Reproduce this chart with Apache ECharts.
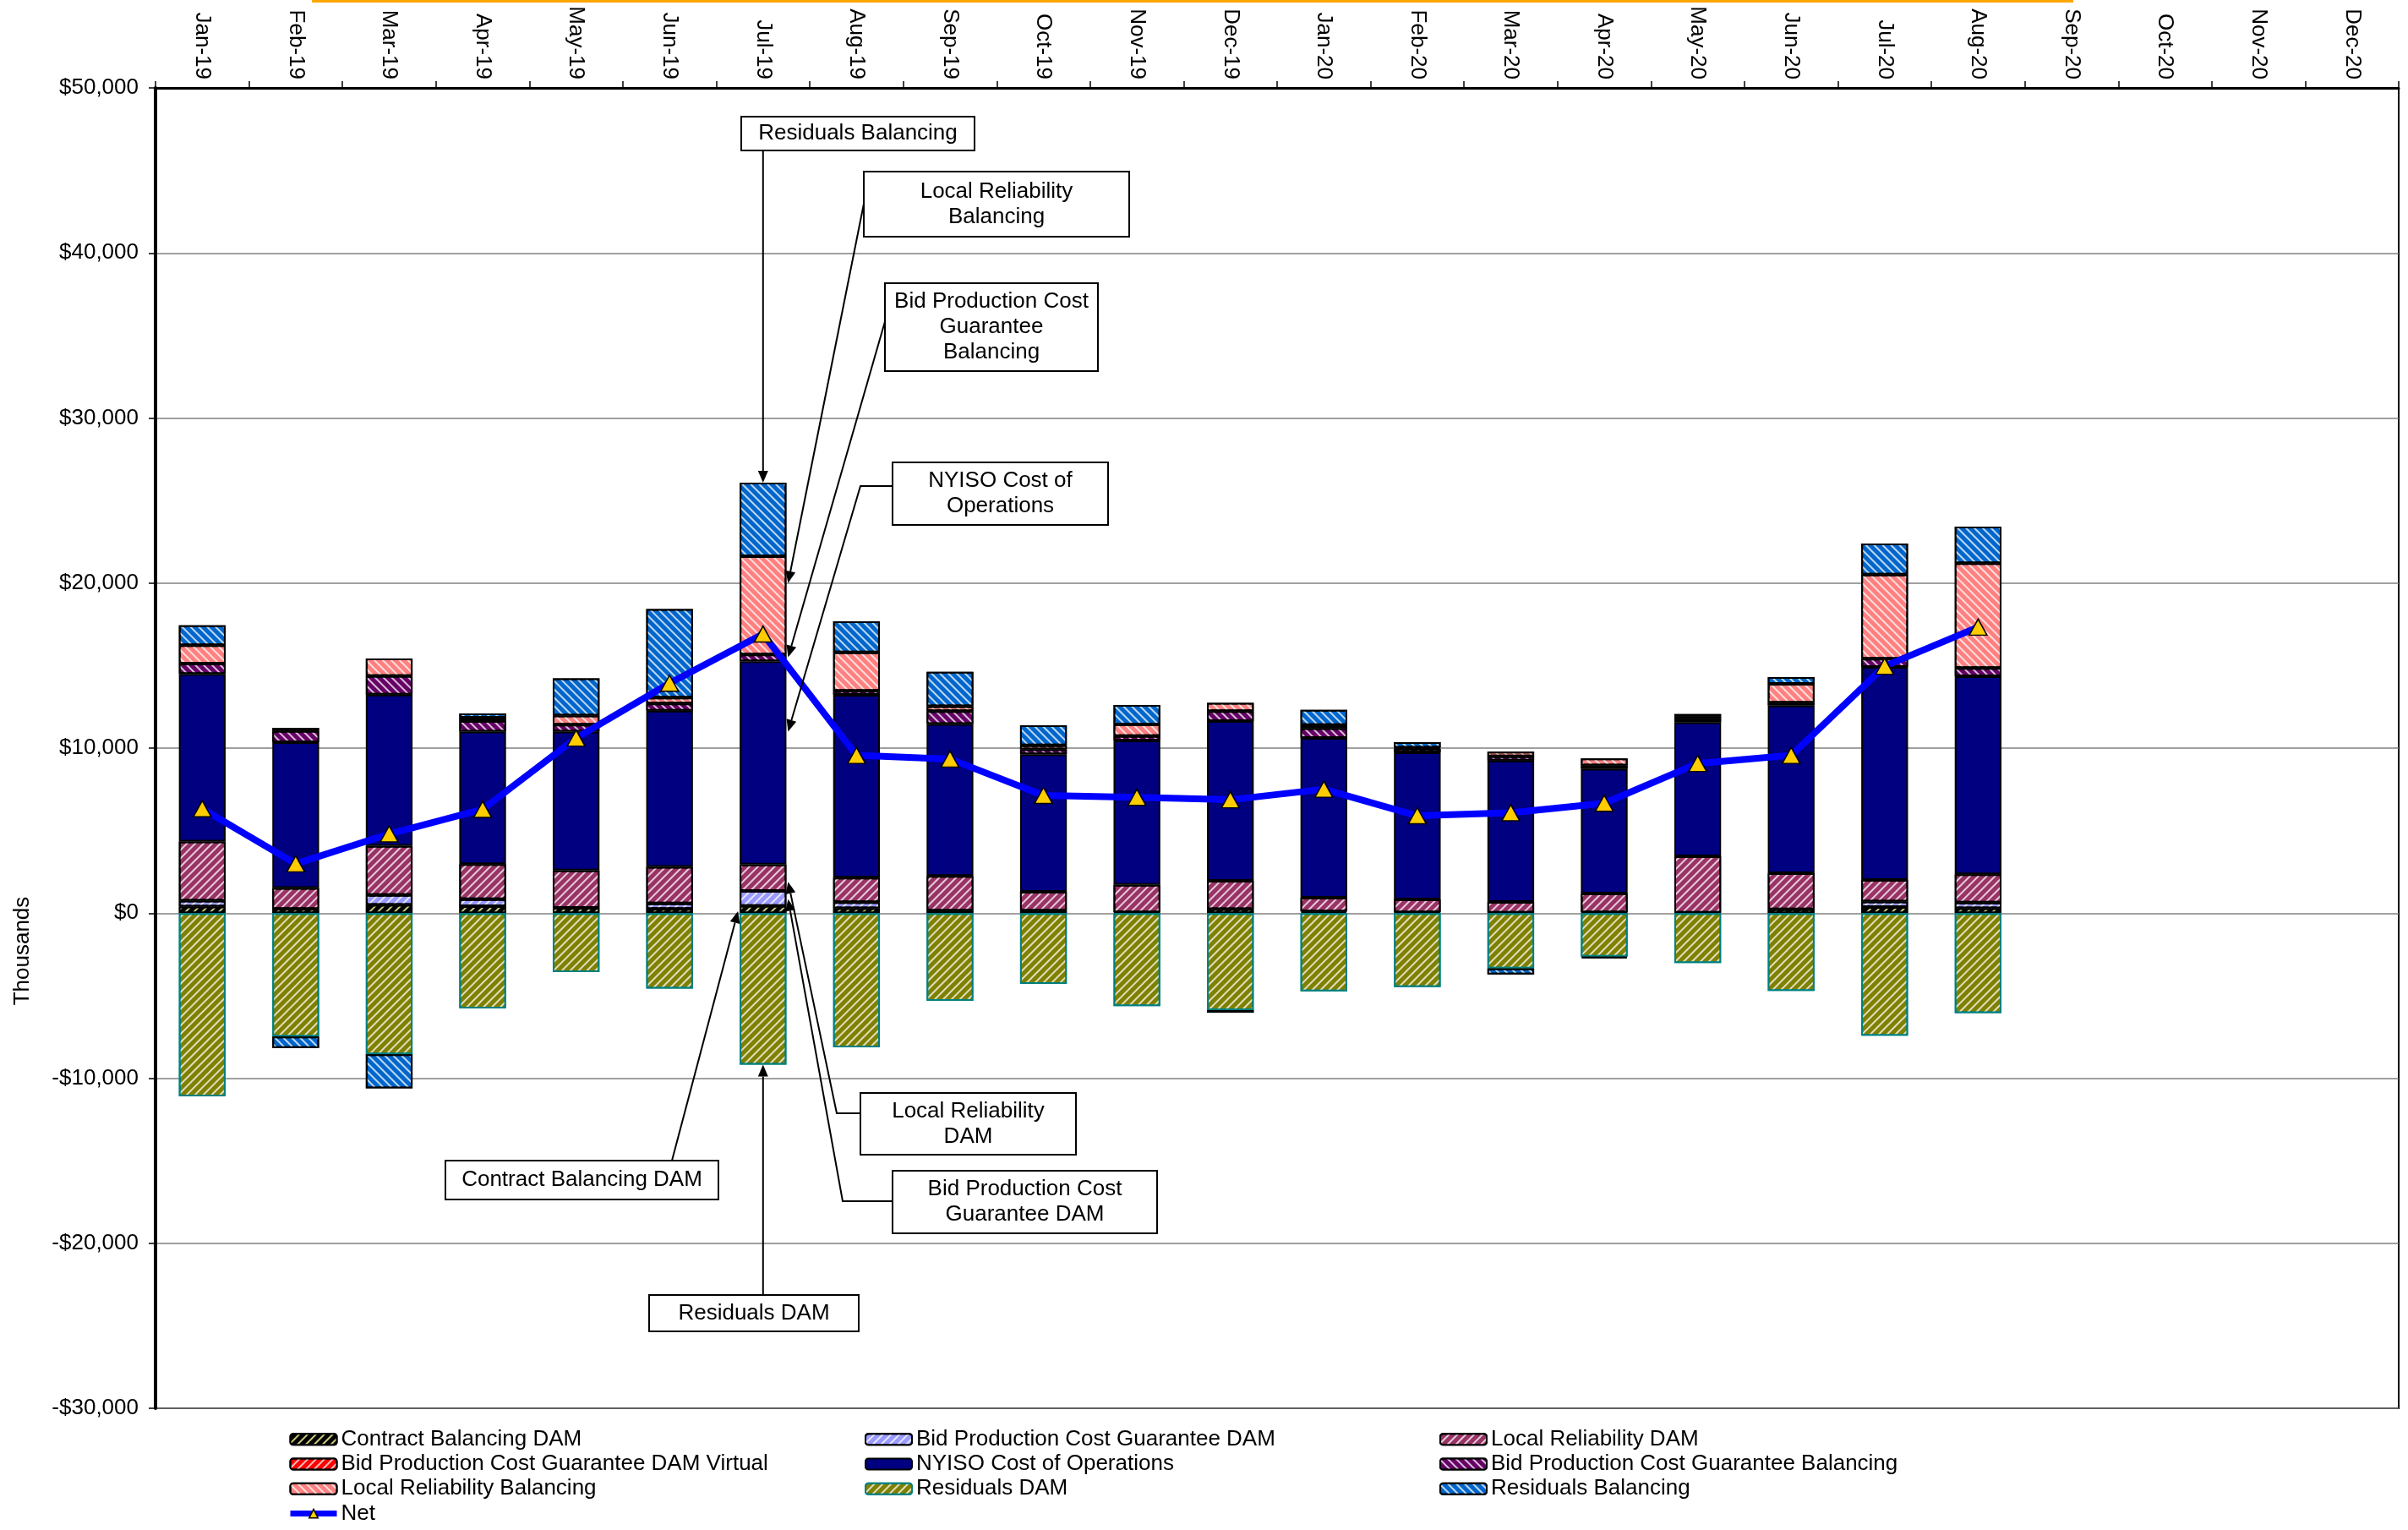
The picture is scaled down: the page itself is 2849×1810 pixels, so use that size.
<!DOCTYPE html>
<html>
<head>
<meta charset="utf-8">
<script src="https://cdn.jsdelivr.net/npm/echarts@6/dist/echarts.min.js"></script>
<style>
html,body{margin:0;padding:0;background:#fff;}
#c{width:2849px;height:1810px;}
</style>
</head>
<body>
<div id="c"></div>
<script>
const months = ['Jan-19','Feb-19','Mar-19','Apr-19','May-19','Jun-19','Jul-19','Aug-19','Sep-19','Oct-19','Nov-19','Dec-19',
                'Jan-20','Feb-20','Mar-20','Apr-20','May-20','Jun-20','Jul-20','Aug-20','Sep-20','Oct-20','Nov-20','Dec-20'];
const yTicks = [-30000,-20000,-10000,0,10000,20000,30000,40000,50000];

const contractBalancingDAM = [400,250,500,425,318,255,441,294,150,150,50,245,100,50,30,50,30,230,366,297,null,null,null,null];
const bpcgDAM = [350,null,600,424,null,339,906,367,null,null,null,null,null,null,null,null,null,null,342,343,null,null,null,null];
const localReliabilityDAM = [3590,1280,2972,2123,2272,2209,1592,1494,2100,1148,1664,1714,837,785,650,1143,3420,2192,1303,1713,null,null,null,null];
const bpcgDAMVirtual = [null,null,null,null,null,null,null,null,null,null,null,null,null,null,null,null,null,null,null,null,null,null,null,null];
const nyisoCost = [10150,8832,9172,8026,8408,9469,12319,11070,9209,8327,8744,9675,9676,8909,8569,7546,8110,10167,12908,11995,null,null,null,null];
const bpcgBalancing = [637,680,1126,637,425,424,417,245,784,294,269,612,596,222,256,205,206,159,503,502,null,null,null,null];
const localReliabilityBalancing = [1104,170,1061,212,552,361,5951,2327,294,245,711,490,188,60,273,426,160,1143,5094,6352,null,null,null,null];
const residualsDAM = [-11104,-7473,-8556,-5775,-3567,-4565,-9184,-8131,-5315,-4286,-5633,-5878,-4736,-4480,-3356,-2641,-3016,-4706,-7425,-6054,null,null,null,null];
const residualsBalancing = [1210,-700,-2060,255,2250,5372,4458,1886,2082,1225,1175,-147,920,330,-358,-100,137,411,1874,2216,null,null,null,null];
const net = [6327,2990,4800,6290,10610,13930,16910,9560,9340,7130,7020,6870,7510,5900,6080,6660,9070,9560,14960,17330,null,null,null,null];

const FONT = '"Liberation Sans", Arial, sans-serif';

function hatch(color, dir){
  return {
    symbol:'rect', symbolSize:1, color: color,
    dashArrayX:[1,0], dashArrayY:[2,5],
    rotation: dir === '/' ? -Math.PI/4 : Math.PI/4
  };
}
function barSeries(name, data, fill, decal, border){
  return {
    name, type:'bar', stack:'total', data, barWidth:'50%',
    itemStyle:{color:fill, borderColor: border || '#000', borderWidth:2, decal: decal || null},
    emphasis:{disabled:true}
  };
}
const W = 'rgba(255,255,255,0.75)';
const series = [
  barSeries('Contract Balancing DAM', contractBalancingDAM, '#000000', hatch('rgba(240,240,150,0.85)','/')),
  barSeries('Bid Production Cost Guarantee DAM', bpcgDAM, '#9999FF', hatch(W,'/')),
  barSeries('Local Reliability DAM', localReliabilityDAM, '#993366', hatch(W,'/')),
  barSeries('Bid Production Cost Guarantee DAM Virtual', bpcgDAMVirtual, '#FF0000', hatch(W,'/')),
  barSeries('NYISO Cost of Operations', nyisoCost, '#000080', null),
  barSeries('Bid Production Cost Guarantee Balancing', bpcgBalancing, '#660066', hatch(W,'\\')),
  barSeries('Local Reliability Balancing', localReliabilityBalancing, '#FF8080', hatch(W,'\\')),
  barSeries('Residuals DAM', residualsDAM, '#808000', hatch(W,'/'), '#008080'),
  barSeries('Residuals Balancing', residualsBalancing, '#0066CC', hatch(W,'\\')),
  {
    name:'Net', type:'line', data: net, z:10,
    lineStyle:{color:'#0000FF', width:8},
    itemStyle:{color:'#FFCC00', borderColor:'#000', borderWidth:1.5},
    symbol:'triangle', symbolSize:[21,19], showSymbol:true,
    emphasis:{disabled:true}
  }
];

const legendCommon = {
  orient:'vertical', itemWidth:55, itemHeight:13, itemGap:0, selectedMode:false, padding:0,
  height:130,
  textStyle:{fontSize:26, fontFamily:FONT, color:'#000', lineHeight:29.3}
};

const chart = echarts.init(document.getElementById('c'), null, {renderer:'canvas'});
chart.setOption({
  animation:false,
  backgroundColor:'#fff',
  grid:{left:184, right:11, top:104, bottom:144, show:true, borderColor:'#000', borderWidth:2, backgroundColor:'transparent'},
  xAxis:{
    type:'category', data: months, position:'top', boundaryGap:true,
    axisLine:{show:true, onZero:false, lineStyle:{color:'#000', width:3}},
    axisTick:{show:true, length:8, lineStyle:{color:'#000', width:1.5}},
    axisLabel:{rotate:90, fontSize:26, fontFamily:FONT, color:'#000', margin:10, interval:0},
    splitLine:{show:false}
  },
  yAxis:{
    type:'value', min: yTicks[0], max: yTicks[yTicks.length-1], interval:10000,
    axisLine:{show:true, onZero:false, lineStyle:{color:'#000', width:4}},
    axisTick:{show:true, length:8, lineStyle:{color:'#000', width:1.5}},
    axisLabel:{fontSize:26, fontFamily:FONT, color:'#000', margin:20,
      formatter: v => (v<0?'-':'') + '$' + Math.abs(v).toLocaleString('en-US')},
    splitLine:{show:true, lineStyle:{color:'#808080', width:1.5}}
  },
  legend:[
    Object.assign({left:340, top:1688, data:['Contract Balancing DAM','Bid Production Cost Guarantee DAM Virtual','Local Reliability Balancing',
      {name:'Net', lineStyle:{color:'#0000FF', width:7}, itemStyle:{color:'#FFCC00', borderColor:'#000', borderWidth:1.5}}]}, legendCommon),
    Object.assign({left:1023, top:1688, data:['Bid Production Cost Guarantee DAM','NYISO Cost of Operations','Residuals DAM']}, legendCommon),
    Object.assign({left:1703, top:1688, data:['Local Reliability DAM','Bid Production Cost Guarantee Balancing','Residuals Balancing']}, legendCommon)
  ],
  series
});

// ---- annotations (callouts) ----
const J = months.indexOf('Jul-19');
function px(idx, v){ return chart.convertToPixel({xAxisIndex:0, yAxisIndex:0}, [idx, v]); }
const band = px(1,0)[0] - px(0,0)[0];
const half = band * 0.25;
const posTop = [contractBalancingDAM,bpcgDAM,localReliabilityDAM,nyisoCost,bpcgBalancing,localReliabilityBalancing,residualsBalancing]
  .reduce((s,a)=> s + (a[J] > 0 ? a[J] : 0), 0);
const negBottom = [residualsDAM, residualsBalancing].reduce((s,a)=> s + (a[J] < 0 ? a[J] : 0), 0);

function tip(side, v){
  const p = px(J, v);
  if (side === 'right') p[0] += half + 2;
  if (side === 'left') p[0] -= half + 2;
  return p;
}
const cx = px(J,0)[0];
const callouts = [
  {text:'Residuals Balancing', box:[877,138,276,40], path:[[cx,179]], tip: tip('c', posTop)},
  {text:'Local Reliability\nBalancing', box:[1022,203,314,77], path:[[1023,236]], tip: tip('right', 20000)},
  {text:'Bid Production Cost\nGuarantee\nBalancing', box:[1047,335,252,104], path:[[1048,377]], tip: tip('right', 15500)},
  {text:'NYISO Cost of\nOperations', box:[1056,547,255,74], path:[[1056,575],[1018,575]], tip: tip('right', 11000)},
  {text:'Local Reliability\nDAM', box:[1018,1293,255,73], path:[[1018,1317],[990,1317]], tip: tip('right', 1900)},
  {text:'Bid Production Cost\nGuarantee DAM', box:[1056,1385,313,74], path:[[1056,1421],[997,1421]], tip: tip('right', 850)},
  {text:'Contract Balancing DAM', box:[527,1373,323,46], path:[[795,1373]], tip: tip('left', 120)},
  {text:'Residuals DAM', box:[768,1532,248,43], path:[[cx,1532]], tip: tip('c', negBottom)}
];
const g = [];
g.push({type:'rect', shape:{x:369, y:0, width:2084, height:3}, style:{fill:'#FFA500'}, z:100});
g.push({type:'text', x:27, y:1125, rotation:Math.PI/2,
  style:{text:'Thousands', fontSize:26, fontFamily:FONT, fill:'#000', align:'center', verticalAlign:'middle'}, z:100});
callouts.forEach(c => {
  const [bx,by,bw,bh] = c.box;
  const pts = c.path.concat([c.tip]);
  const a = pts[pts.length-2], t = c.tip;
  const dx = t[0]-a[0], dy = t[1]-a[1], L = Math.hypot(dx,dy);
  const ux = dx/L, uy = dy/L, hl = 14, hw = 6;
  const base = [t[0]-ux*hl, t[1]-uy*hl];
  const linePts = pts.slice(0, -1).concat([base]);
  g.push({type:'polyline', shape:{points:linePts}, style:{stroke:'#000', lineWidth:2, fill:null}, z:100});
  g.push({type:'polygon', shape:{points:[t, [base[0]-uy*hw, base[1]+ux*hw], [base[0]+uy*hw, base[1]-ux*hw]]}, style:{fill:'#000'}, z:100});
  g.push({type:'rect', shape:{x:bx, y:by, width:bw, height:bh}, style:{fill:'#fff', stroke:'#000', lineWidth:2}, z:101});
  g.push({type:'text', x:bx+bw/2, y:by+bh/2,
    style:{text:c.text, fontSize:26, fontFamily:FONT, fill:'#000', align:'center', verticalAlign:'middle', lineHeight:30}, z:102});
});
chart.setOption({graphic:g});
</script>
</body>
</html>
